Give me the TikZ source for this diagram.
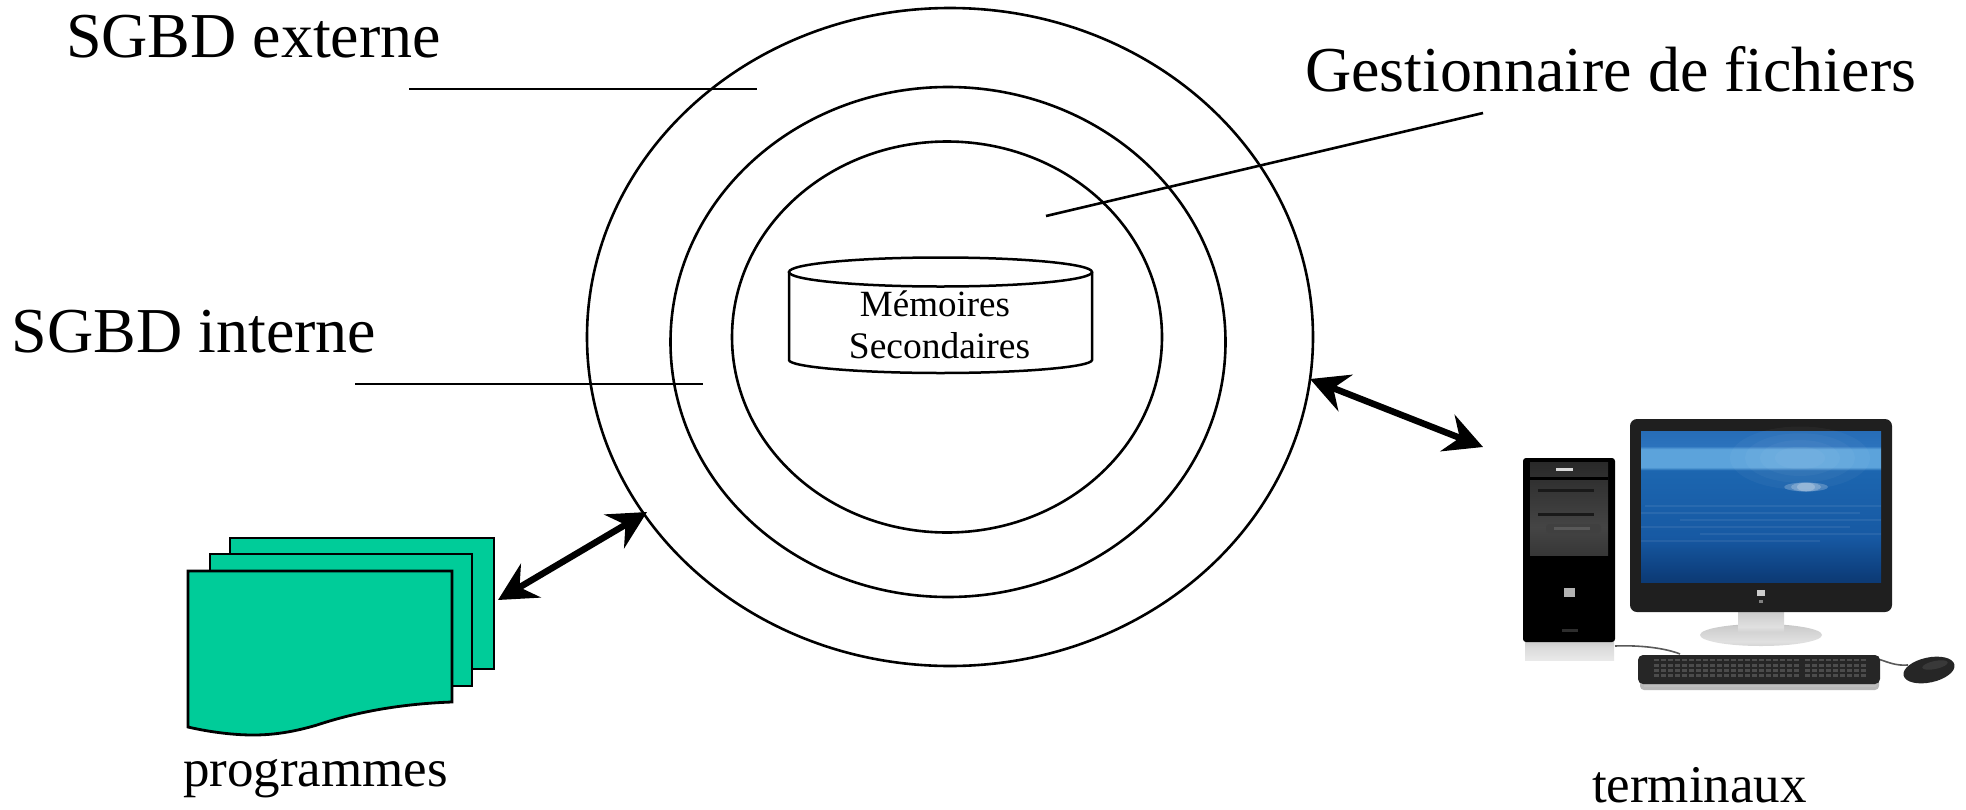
\documentclass[tikz,border=0pt]{standalone}
\usepackage{fontspec}
\setmainfont{Liberation Serif}
\usetikzlibrary{arrows.meta,shapes.geometric}
\definecolor{docgreen}{HTML}{00CC99}
\pgfdeclareverticalshading{screenblue}{100bp}{
 rgb(0bp)=(.03,.12,.26);
 rgb(14bp)=(.04,.16,.33);
 rgb(27bp)=(.05,.24,.48);
 rgb(40bp)=(.09,.35,.64);
 rgb(62bp)=(.11,.40,.69);
 rgb(63bp)=(.36,.64,.86);
 rgb(69bp)=(.36,.64,.86);
 rgb(70bp)=(.17,.45,.74);
 rgb(86bp)=(.11,.37,.66);
 rgb(100bp)=(.05,.22,.44)}
\pgfdeclareverticalshading{towerpanel}{100bp}{
 rgb(0bp)=(.12,.12,.12);
 rgb(40bp)=(.27,.27,.27);
 rgb(75bp)=(.16,.16,.16);
 rgb(100bp)=(.38,.38,.38)}
\pgfdeclareverticalshading{silver}{100bp}{
 rgb(0bp)=(.72,.72,.72);
 rgb(35bp)=(.88,.88,.88);
 rgb(70bp)=(.80,.80,.80);
 rgb(100bp)=(.50,.50,.50)}
\pgfdeclareverticalshading{towerfoot}{100bp}{
 rgb(0bp)=(.96,.96,.96);
 rgb(55bp)=(.86,.86,.86);
 rgb(100bp)=(.70,.70,.70)}
\tikzset{
 label/.style={inner sep=0pt,outer sep=0pt,font=\fontsize{64}{64}\selectfont,anchor=base west},
 smalllabel/.style={inner sep=0pt,outer sep=0pt,font=\fontsize{53}{53}\selectfont,anchor=base west},
 ring/.style={draw,ellipse,line width=2.6pt,inner sep=0pt,outer sep=0pt},
 leader/.style={line width=2.6pt},
 bothways/.style={line width=6.5pt,{Stealth[length=38pt,width=39pt,inset=13pt]}-{Stealth[length=38pt,width=39pt,inset=13pt]}},
 sheet/.style={draw,fill=docgreen,line width=2.8pt,inner sep=0pt,outer sep=0pt,anchor=north west},
 drum/.style={line width=2.5pt}
}
\begin{document}
\begin{tikzpicture}[x=1pt,y=-1pt]
\useasboundingbox (0,0) rectangle (1966,809);
% rings
\node[ring,minimum width=726pt,minimum height=658pt] (outer) at (950,337) {};
\node[ring,minimum width=555pt,minimum height=510pt] (middle) at (948,342) {};
\node[ring,minimum width=430pt,minimum height=391pt] (inner) at (947,337) {};
% cylinder
\draw[drum] (789,272) -- (789,360) .. controls (789,367) and (860,373) .. (940.5,373) .. controls (1021,373) and (1092,367) .. (1092,360) -- (1092,272);
\draw[drum] (940.5,272) ellipse [x radius=151.5,y radius=14.5];
\node[inner sep=0pt,font=\fontsize{37}{37}\selectfont,anchor=base] (mem) at (935,316) {Mémoires};
\node[inner sep=0pt,font=\fontsize{37.5}{37.5}\selectfont,anchor=base] (sec) at (939.5,358) {Secondaires};
% labels
\node[label] (ext) at (66,57) {SGBD externe};
\node[label] (int) at (12,352) {SGBD interne};
\node[label] (ges) at (1305,91) {Gestionnaire de fichiers};
\node[smalllabel] (prog) at (183,786) {programmes};
\node[smalllabel] (term) at (1592,802) {terminaux};
% leaders
\coordinate (e1) at (409,89); \coordinate (e2) at (757,89);
\coordinate (i1) at (355,384); \coordinate (i2) at (703,384);
\coordinate (g1) at (1483,113); \coordinate (g2) at (1046,216);
\draw[leader] (e1) -- (e2);
\draw[leader] (i1) -- (i2);
\draw[leader] (g1) -- (g2);
% documents
\node[sheet,minimum width=264pt,minimum height=131pt] (back) at (230,538) {};
\node[sheet,minimum width=262pt,minimum height=132pt] (mid) at (210,554) {};
\draw[line width=2.8pt,fill=docgreen,line join=miter] (188,571) -- (452,571) -- (452,702)
 .. controls (395,704) and (350,714) .. (317,725)
 .. controls (290,733) and (270,735) .. (253,735)
 .. controls (230,735) and (205,731) .. (188,727) -- cycle;
% arrows
\coordinate (a1) at (498,600); \coordinate (a2) at (647,512);
\coordinate (b1) at (1310,379); \coordinate (b2) at (1483,447);
\draw[bothways] (a1) -- (a2);
\draw[bothways] (b1) -- (b2);
% computer: tower
\shade[shading=towerfoot] (1525,640) rectangle (1614,660);
\fill[black,rounded corners=3pt] (1523,458) rectangle (1615,642);
\shade[shading=towerpanel] (1530,462) rectangle (1608,555);
\fill[black] (1530,477) rectangle (1608,480);
\fill[black!90] (1538,488.5) rectangle (1594,491.5);
\fill[black!90] (1538,512.5) rectangle (1594,515.5);
\fill[black!75,rounded corners=3pt] (1546,524) rectangle (1601,533);
\fill[gray!70!black] (1554,527) rectangle (1590,530);
\fill[white!85!black] (1556,467.5) rectangle (1573,470.5);
\fill[white!70!black] (1564,588) rectangle (1575,597);
\fill[gray!35!black] (1562,629) rectangle (1578,632);
% computer: monitor stand
\shade[shading=silver] (1761,635) ellipse [x radius=61,y radius=11];
\shade[shading=silver] (1738,610) rectangle (1784,631);
% monitor
\fill[black!88,rounded corners=7pt] (1630,419) rectangle (1892,612);
\shade[shading=screenblue] (1641,431) rectangle (1881,582);
\foreach \yy/\xa/\xb in {506/1645/1881,513/1641/1860,520/1680/1881,527/1641/1850,534/1700/1881,541/1641/1820}{
  \draw[white,opacity=.07,line width=2.5pt] (\xa,\yy) -- (\xb,\yy);
}
\foreach \rr in {70,55,40,25}{
  \fill[white,opacity=.035] (1800,458) ellipse [x radius=\rr,y radius={\rr*.45}];
}
\foreach \rr in {22,15,9}{
  \fill[white,opacity=.22] (1806,487) ellipse [x radius=\rr,y radius=4.5];
}
\fill[white!80!black] (1757,590) rectangle (1765,596);
\fill[gray] (1759,600) rectangle (1763,603);
% cables
\draw[black!65,line width=1.6pt] (1615,646) .. controls (1640,645) and (1665,648) .. (1680,654);
\draw[black!65,line width=1.6pt] (1875,658) .. controls (1888,662) and (1895,666) .. (1908,665);
% keyboard
\fill[gray!55,rounded corners=4pt] (1640,672) rectangle (1879,690);
\fill[black!85,rounded corners=5pt] (1638,655) rectangle (1880,684);
\foreach \rw in {0,1,2,3}{
  \draw[gray!60!black,line width=2.6pt,dash pattern=on 5pt off 2pt] (1654,{660+\rw*5.2}) -- (1800,{660+\rw*5.2});
  \draw[gray!60!black,line width=2.6pt,dash pattern=on 5pt off 2pt] (1805,{660+\rw*5.2}) -- (1866,{660+\rw*5.2});
}
\fill[gray!50] (1644,685) rectangle (1876,686.5);
% mouse
\fill[black!85,rotate around={12:(1929,670)}] (1929,670) ellipse [x radius=26,y radius=12.5];
\fill[gray!45!black,rotate around={12:(1935,665)}] (1935,665) ellipse [x radius=13,y radius=4];
\end{tikzpicture}
\end{document}
